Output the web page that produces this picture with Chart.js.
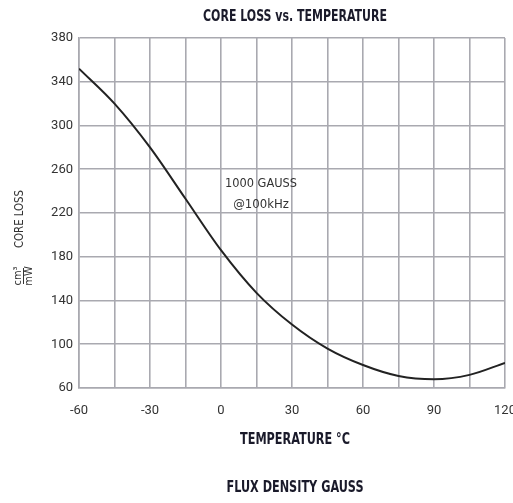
<!DOCTYPE html>
<html>
<head>
<meta charset="utf-8">
<script src="https://cdn.jsdelivr.net/npm/chart.js@4.4.1/dist/chart.umd.min.js"></script>
<style>
  html, body { margin: 0; padding: 0; background: #fff; }
  #wrap { width: 513px; height: 503px; }
</style>
</head>
<body>
<div id="wrap"><canvas id="chart" width="513" height="503"></canvas></div>
<script>
// --- Data ---
const temperatures = [-60, -45, -30, -15, 0, 15, 30, 45, 60, 75, 90, 105, 120];
const coreLoss = [352, 320, 280, 233, 186, 147, 118, 96, 81, 71, 68, 72, 83];

const xTickLabels = [-60, -30, 0, 30, 60, 90, 120];
const yTickLabels = [60, 100, 140, 180, 220, 260, 300, 340, 380];

const FONT = "'Liberation Sans Narrow', 'DejaVu Sans Condensed', 'Roboto', sans-serif";
const TICK_FONT = "Roboto, sans-serif";
const GRID = '#a9a9b0';

// draw text squeezed horizontally to a given width (datasheet font is very condensed)
function fitText(ctx, text, x, y, font, width, color) {
    ctx.save();
    ctx.font = font;
    ctx.fillStyle = color || '#222';
    ctx.textAlign = 'center';
    ctx.textBaseline = 'middle';
    const w = ctx.measureText(text).width;
    const sx = width ? Math.min(1, width / w) : 1;
    ctx.translate(x, y);
    ctx.scale(sx, 1);
    ctx.fillText(text, 0, 0);
    ctx.restore();
}

// titles, axis names, note
const labelsPlugin = {
    id: 'labels',
    afterDraw(chart) {
        const ctx = chart.ctx;
        const a = chart.chartArea;
        const cx = (a.left + a.right) / 2;

        fitText(ctx, 'CORE LOSS vs. TEMPERATURE', cx + 3, 17, 'bold 16px ' + FONT, 184, '#1a1a2a');
        fitText(ctx, 'TEMPERATURE °C', cx + 3, 440, 'bold 15px ' + FONT, 110, '#1a1a2a');
        fitText(ctx, 'FLUX DENSITY GAUSS', cx + 3, 488, 'bold 15px ' + FONT, 137, '#1a1a2a');

        fitText(ctx, '1000 GAUSS', 261, 184, '13px ' + FONT, 72, '#333');
        fitText(ctx, '@100kHz', 261, 205, '13px ' + FONT, 58, '#333');

        // rotated y label
        ctx.save();
        ctx.translate(20, 219);
        ctx.rotate(-Math.PI / 2);
        fitText(ctx, 'CORE LOSS', 0, 0, '12px ' + FONT, 58, '#333');
        ctx.restore();

        ctx.save();
        ctx.translate(23, 276);
        ctx.rotate(-Math.PI / 2);
        fitText(ctx, 'mW', 0, 6, '11px ' + FONT, null, '#333');
        fitText(ctx, 'cm³', 0, -5, '11px ' + FONT, null, '#333');
        ctx.strokeStyle = '#333';
        ctx.lineWidth = 1;
        ctx.beginPath();
        ctx.moveTo(-8, 0.5);
        ctx.lineTo(8, 0.5);
        ctx.stroke();
        ctx.restore();
    }
};

new Chart(document.getElementById('chart'), {
    type: 'line',
    data: {
        datasets: [{
            data: temperatures.map((t, i) => ({ x: t, y: coreLoss[i] })),
            borderColor: '#222',
            borderWidth: 2,
            pointRadius: 0,
            cubicInterpolationMode: 'monotone',
            fill: false
        }]
    },
    options: {
        responsive: false,
        animation: false,
        layout: { padding: { left: 0, right: 8, top: 38, bottom: 0 } },
        plugins: {
            legend: { display: false },
            tooltip: { enabled: false }
        },
        scales: {
            x: {
                type: 'linear',
                min: -60, max: 120,
                afterFit(scale) {
                    scale.height = 115;
                    scale.paddingLeft = 0;
                    scale.paddingRight = 0;
                },
                ticks: {
                    stepSize: 15,
                    autoSkip: false,
                    maxRotation: 0,
                    padding: 15,
                    color: '#333',
                    font: { family: TICK_FONT, size: 13 },
                    callback: v => xTickLabels.includes(v) ? String(v) : ''
                },
                grid: { color: GRID, lineWidth: 1.6, drawTicks: false },
                border: { color: GRID, width: 1.6 }
            },
            y: {
                min: 60, max: 380,
                afterFit(scale) {
                    scale.width = 79;
                    scale.paddingTop = 0;
                    scale.paddingBottom = 0;
                },
                ticks: {
                    stepSize: 40,
                    padding: 6,
                    color: '#333',
                    font: { family: TICK_FONT, size: 13 },
                    callback: v => yTickLabels.includes(v) ? String(v) : ''
                },
                grid: { color: GRID, lineWidth: 1.6, drawTicks: false },
                border: { color: GRID, width: 1.6 }
            }
        }
    },
    plugins: [labelsPlugin]
});
</script>
</body>
</html>
